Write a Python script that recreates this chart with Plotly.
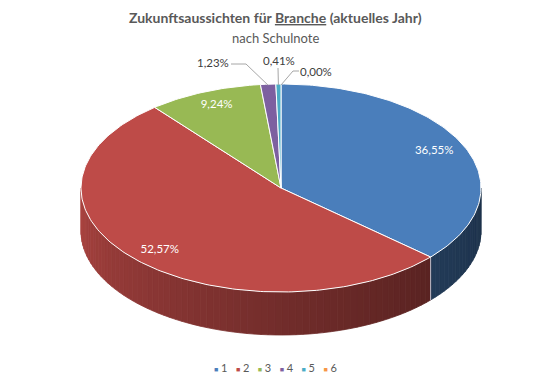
import numpy as np
import plotly.graph_objects as go

# ---- data ----
categories = ["1", "2", "3", "4", "5", "6"]
shares = [36.55, 52.57, 9.24, 1.23, 0.41, 0.00]
label_texts = ["36,55%", "52,57%", "9,24%", "1,23%", "0,41%", "0,00%"]
colors = ["#4A7EBB", "#BE4B48", "#98B954", "#7D60A0", "#4BACC6", "#F79646"]

title_text = "<b>Zukunftsaussichten für <u>Branche</u> (aktuelles Jahr)</b>"
subtitle_text = "nach Schulnote"

# ---- geometry of the tilted pie (pixel space) ----
W, H = 550, 387
CX, CY = 281, 188
RX, RY = 200, 104
DEPTH = 43
FONT = "Lato"


def pt(theta, dy=0.0):
    return CX + RX * np.sin(theta), CY - RY * np.cos(theta) + dy


def hex2rgb(h):
    h = h.lstrip("#")
    return tuple(int(h[i:i + 2], 16) for i in (0, 2, 4))


def shade(h, f):
    r, g, b = hex2rgb(h)
    return "rgb(%d,%d,%d)" % (min(255, r * f), min(255, g * f), min(255, b * f))


total = sum(shares)
bounds = np.concatenate([[0], np.cumsum(shares)]) / total * 2 * np.pi

fig = go.Figure()

# ---- side walls (front half, theta in [pi/2, 3pi/2]) ----
for i, c in enumerate(colors):
    a, b = bounds[i], bounds[i + 1]
    lo, hi = max(a, np.pi / 2), min(b, 3 * np.pi / 2)
    if hi <= lo:
        continue
    nstrip = max(1, int(np.degrees(hi - lo) / 2))
    edges = np.linspace(lo, hi, nstrip + 1)
    for k in range(nstrip):
        t0, t1 = edges[k], edges[k + 1]
        tm = 0.5 * (t0 + t1)
        frac = (tm - np.pi / 2) / np.pi  # 0 right, 1 left
        f = 0.40 + 0.50 * frac ** 1.3
        col = shade(c, f)
        ts = np.linspace(t0, t1, 4)
        xs_top, ys_top = pt(ts)
        xs_bot, ys_bot = pt(ts[::-1], DEPTH)
        xs = np.concatenate([xs_top, xs_bot, xs_top[:1]])
        ys = np.concatenate([ys_top, ys_bot, ys_top[:1]])
        fig.add_trace(go.Scatter(x=xs, y=ys, mode="lines", fill="toself",
                                 fillcolor=col, line=dict(color=col, width=0.8),
                                 hoverinfo="skip", showlegend=False))

# vertical seams between side walls
for i in range(1, len(bounds) - 1):
    t = bounds[i]
    if np.pi / 2 < t < 3 * np.pi / 2:
        x0, y0 = pt(t)
        x1, y1 = pt(t, DEPTH)
        fig.add_trace(go.Scatter(x=[x0, x1], y=[y0, y1], mode="lines",
                                 line=dict(color="rgba(200,205,220,0.9)", width=1),
                                 hoverinfo="skip", showlegend=False))

# ---- top faces ----
for i, c in enumerate(colors):
    a, b = bounds[i], bounds[i + 1]
    if b - a <= 0:
        continue
    n = max(3, int(np.degrees(b - a)))
    ts = np.linspace(a, b, n)
    xa, ya = pt(ts)
    xs = np.concatenate([[CX], xa, [CX]])
    ys = np.concatenate([[CY], ya, [CY]])
    fig.add_trace(go.Scatter(x=xs, y=ys, mode="lines", fill="toself",
                             fillcolor=c, line=dict(color="white", width=1),
                             hoverinfo="skip", showlegend=False))

# ---- inside labels (large slices) ----
mids = 0.5 * (bounds[:-1] + bounds[1:])
inside = [i for i in range(len(shares)) if shares[i] >= 5]
lx, ly = pt(mids[inside] * 1.0)
lx = CX + (lx - CX) * 0.84
ly = CY + (ly - CY) * 0.86
fig.add_trace(go.Scatter(x=lx, y=ly, mode="text",
                         text=[label_texts[i] for i in inside],
                         textfont=dict(family=FONT, size=11.5, color="white"),
                         hoverinfo="skip", showlegend=False))

# ---- outside labels with leader lines ----
out_pos = {3: (213, 62), 4: (279, 60), 5: (316, 71)}
leader_start = {3: [(231, 64), (246, 64)], 4: [(278, 68)], 5: [(299, 71), (293, 71)]}
for i, (tx, ty) in out_pos.items():
    fig.add_annotation(x=tx, y=ty, text=label_texts[i], showarrow=False,
                       xanchor="center", yanchor="middle",
                       font=dict(family=FONT, size=11.5, color="#404040"))
    ex, ey = pt(mids[i])
    pts = leader_start[i] + [(ex, ey + 1)]
    fig.add_trace(go.Scatter(x=[p[0] for p in pts], y=[p[1] for p in pts],
                             mode="lines", line=dict(color="#A6A6A6", width=1),
                             hoverinfo="skip", showlegend=False))

# ---- legend as text ----
legend_parts = []
for cat, c in zip(categories, colors):
    legend_parts.append('<span style="color:%s;font-size:7px">■</span> %s' % (c, cat))
fig.add_annotation(x=0.5, y=1 - 367 / H, xref="paper", yref="paper",
                   xanchor="center", yanchor="middle",
                   text="   ".join(legend_parts), showarrow=False,
                   font=dict(family=FONT, size=11, color="#595959"))

# ---- titles ----
fig.add_annotation(x=0.5, y=1 - 17 / H, xref="paper", yref="paper",
                   xanchor="center", yanchor="middle",
                   text=title_text, showarrow=False,
                   font=dict(family=FONT, size=14, color="#595959"))
fig.add_annotation(x=0.5, y=1 - 38 / H, xref="paper", yref="paper",
                   xanchor="center", yanchor="middle",
                   text=subtitle_text, showarrow=False,
                   font=dict(family=FONT, size=13, color="#595959"))

fig.update_layout(
    width=W, height=H, autosize=False,
    margin=dict(l=0, r=0, t=0, b=0),
    paper_bgcolor="white", plot_bgcolor="white",
    xaxis=dict(range=[0, W], visible=False, fixedrange=True),
    yaxis=dict(range=[H, 0], visible=False, fixedrange=True),
    showlegend=False,
)

fig.write_html("out.html", config={"displayModeBar": False},
               post_script="document.body.style.margin='0';")
